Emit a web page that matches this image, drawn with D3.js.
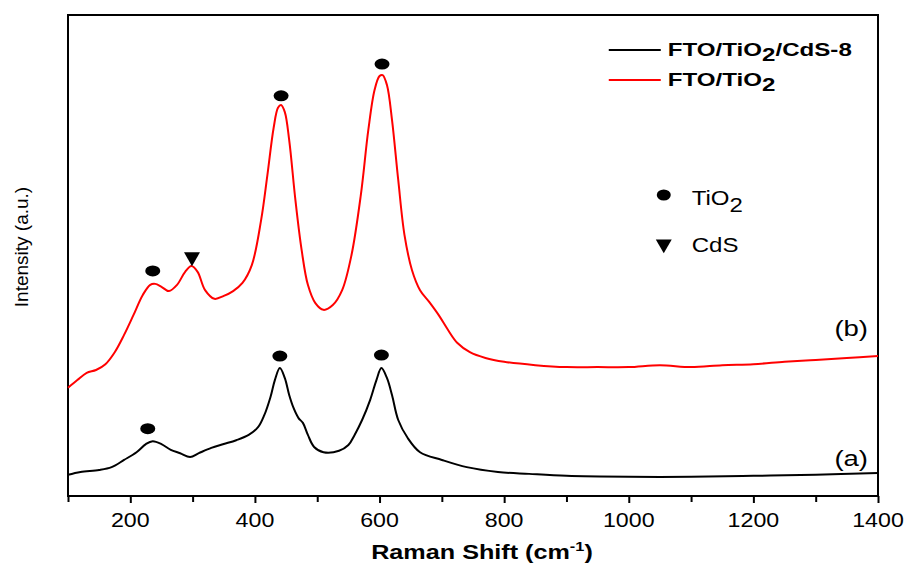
<!DOCTYPE html>
<html>
<head>
<meta charset="utf-8">
<script src="https://cdn.jsdelivr.net/npm/d3@7"></script>
<style>
  body { margin: 0; background: #fff; }
  text { font-family: "Liberation Sans", Arial, sans-serif; }
</style>
</head>
<body>
<div id="chart"></div>
<script>
const width = 909;
const height = 565;
const margin = { top: 15, right: 31, bottom: 69, left: 68 };

// Raman shift (cm-1) and intensity (a.u.)
const shiftA = [100, 120, 150, 170, 190, 210, 225, 236, 250, 265, 280, 296, 310, 330, 350, 370, 390, 405, 415, 425, 432, 440, 448, 455, 462, 470, 477, 485, 495, 510, 535, 550, 560, 572, 585, 595, 603, 612, 620, 630, 645, 665, 700, 740, 790, 840, 900, 1000, 1100, 1200, 1300, 1400];
const intensityA = [4.4, 5.0, 5.4, 6.0, 7.5, 9.1, 10.8, 11.4, 10.8, 9.6, 8.9, 8.1, 8.9, 10.0, 10.8, 11.6, 12.7, 14.3, 16.8, 20.6, 24.1, 26.6, 24.5, 21.0, 18.3, 16.2, 15.2, 12.7, 10.2, 9.1, 9.4, 10.6, 12.7, 15.8, 20.0, 24.1, 26.6, 24.5, 21.0, 15.8, 12.1, 9.1, 7.5, 6.0, 5.0, 4.6, 4.2, 4.0, 4.0, 4.2, 4.4, 4.8];

const shiftB = [100, 115, 130, 145, 160, 175, 190, 205, 220, 232, 240, 250, 262, 275, 288, 298, 308, 320, 335, 350, 365, 380, 395, 410, 420, 430, 437, 442, 448, 455, 465, 475, 485, 497, 510, 525, 540, 555, 570, 582, 592, 600, 605, 612, 620, 630, 640, 652, 665, 680, 695, 710, 725, 745, 770, 800, 850, 900, 950, 1000, 1050, 1100, 1150, 1200, 1250, 1300, 1350, 1400];
const intensityB = [22.5, 24.1, 25.6, 26.2, 27.4, 29.9, 33.5, 37.6, 41.8, 43.9, 44.1, 43.5, 42.6, 43.9, 46.6, 47.8, 46.6, 42.8, 41.0, 41.6, 42.6, 44.3, 48.0, 57.4, 66.7, 76.5, 80.7, 81.3, 79.8, 74.0, 61.5, 51.1, 43.9, 40.1, 38.7, 39.7, 42.8, 50.1, 62.6, 76.1, 84.4, 87.3, 87.5, 85.4, 78.2, 65.7, 54.3, 47.0, 42.8, 40.3, 37.6, 34.5, 31.8, 29.9, 28.7, 27.9, 27.2, 26.8, 26.8, 26.8, 27.2, 26.8, 27.2, 27.4, 27.9, 28.3, 28.7, 29.1];

// peak markers: [shift, intensity]
const tio2Marks = [[228, 14.0], [440, 29.1], [603, 29.3], [236, 46.8], [442, 83.2], [604, 89.8]];
const cdsMarks = [[299, 49.7]];

const majorTicks = [200, 400, 600, 800, 1000, 1200, 1400];
const minorTicks = [100, 300, 500, 700, 900, 1100, 1300];

const innerW = width - margin.left - margin.right;
const innerH = height - margin.top - margin.bottom;

const svg = d3.select("#chart")
    .append("svg")
    .attr("width", width)
    .attr("height", height)
  .append("g")
    .attr("transform", `translate(${margin.left},${margin.top})`);

const x = d3.scaleLinear().domain([100, 1400]).range([0, innerW]);
const y = d3.scaleLinear().domain([0, 100]).range([innerH, 0]);

// text placed at (tx, ty) and widened horizontally
function wideText(parent, tx, ty, size, sx) {
    return parent.append("text")
        .attr("transform", `translate(${tx},${ty}) scale(${sx},1)`)
        .attr("font-size", size);
}

// bottom axis
const xAxis = svg.append("g")
    .attr("transform", `translate(0,${innerH})`)
    .call(d3.axisBottom(x).tickValues(majorTicks).tickSize(7).tickFormat(""));
xAxis.select(".domain").remove();
xAxis.selectAll(".tick line").attr("stroke-width", 2);
majorTicks.forEach(t => {
    wideText(svg, x(t), innerH + 31, 20, 1.16)
        .attr("text-anchor", "middle")
        .text(t);
});

const xMinor = svg.append("g")
    .attr("transform", `translate(0,${innerH})`)
    .call(d3.axisBottom(x).tickValues(minorTicks).tickSize(6).tickFormat(""));
xMinor.select(".domain").remove();
xMinor.selectAll(".tick line").attr("stroke-width", 2);

// frame
svg.append("rect")
    .attr("width", innerW)
    .attr("height", innerH)
    .attr("fill", "none")
    .attr("stroke", "#000")
    .attr("stroke-width", 2);

const line = d3.line()
    .x(d => x(d[0]))
    .y(d => y(d[1]))
    .curve(d3.curveCatmullRom.alpha(0.5));

svg.append("path")
    .datum(d3.zip(shiftB, intensityB))
    .attr("d", line)
    .attr("fill", "none")
    .attr("stroke", "#ff0000")
    .attr("stroke-width", 2);

svg.append("path")
    .datum(d3.zip(shiftA, intensityA))
    .attr("d", line)
    .attr("fill", "none")
    .attr("stroke", "#000")
    .attr("stroke-width", 2);

// peak markers
svg.selectAll(".dot")
    .data(tio2Marks)
  .enter().append("ellipse")
    .attr("cx", d => x(d[0]))
    .attr("cy", d => y(d[1]))
    .attr("rx", 7.5)
    .attr("ry", 5.5)
    .attr("fill", "#000");

const tri = d3.symbol().type(d3.symbolTriangle).size(110);
svg.selectAll(".tri")
    .data(cdsMarks)
  .enter().append("path")
    .attr("d", tri)
    .attr("transform", d => `translate(${x(d[0])},${y(d[1])}) rotate(180)`)
    .attr("fill", "#000");

// curve labels
wideText(svg, x(1330), y(33.3), 22, 1.25).text("(b)");
wideText(svg, x(1330), y(6.3), 22, 1.25).text("(a)");

// legend
const legend = svg.append("g").attr("transform", `translate(${x(1000) - 20},0)`);
const legendItems = [
    { color: "#000", parts: ["FTO/TiO", "2", "/CdS-8"] },
    { color: "#ff0000", parts: ["FTO/TiO", "2", ""] }
];
legendItems.forEach((d, i) => {
    const ly = 35 + i * 30;
    legend.append("line")
        .attr("x1", 0).attr("x2", 52)
        .attr("y1", ly).attr("y2", ly)
        .attr("stroke", d.color).attr("stroke-width", 2);
    const t = wideText(legend, 59, ly + 6, 19, 1.27).attr("font-weight", "bold");
    t.append("tspan").text(d.parts[0]);
    t.append("tspan").attr("dy", 5).text(d.parts[1]);
    t.append("tspan").attr("dy", -5).text(d.parts[2]);
});

// marker legend
const mk = svg.append("g").attr("transform", `translate(${x(1000) + 35},0)`);
mk.append("ellipse").attr("cx", 0).attr("cy", 180).attr("rx", 7).attr("ry", 5.5).attr("fill", "#000");
const mt = wideText(mk, 28, 190, 20, 1.2);
mt.append("tspan").text("TiO");
mt.append("tspan").attr("dy", 7).text("2");
mk.append("path").attr("d", tri).attr("transform", "translate(0,229) rotate(180)").attr("fill", "#000");
wideText(mk, 28, 237, 20, 1.2).text("CdS");

// axis titles
const xt = wideText(svg, innerW / 2 + 9, innerH + 63, 20, 1.26)
    .attr("text-anchor", "middle")
    .attr("font-weight", "bold");
xt.append("tspan").text("Raman Shift (cm");
xt.append("tspan").attr("dy", -8).attr("font-size", 13).text("-1");
xt.append("tspan").attr("dy", 8).text(")");

svg.append("text")
    .attr("transform", `translate(${-40},${232}) rotate(-90)`)
    .attr("text-anchor", "middle")
    .attr("font-size", 19)
    .text("Intensity (a.u.)");
</script>
</body>
</html>
